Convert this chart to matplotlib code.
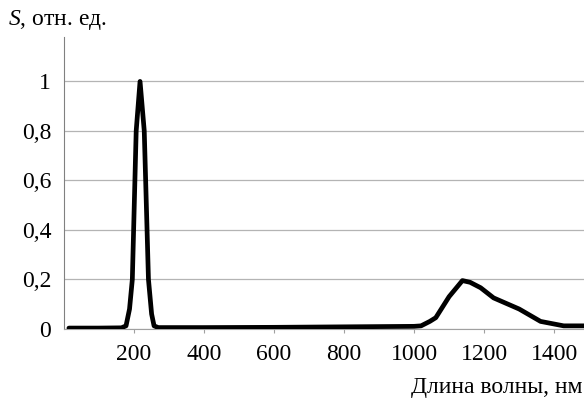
import matplotlib
matplotlib.use("Agg")
import matplotlib.pyplot as plt

wavelength = [15, 100, 165, 178, 188, 196, 207, 218, 230, 242, 251, 258, 270, 400, 600, 800, 1000, 1020, 1045, 1062, 1100, 1138, 1160, 1190, 1227, 1300, 1361, 1427, 1485]
signal =     [0.003, 0.003, 0.004, 0.012, 0.08, 0.2, 0.8, 1.0, 0.8, 0.2, 0.06, 0.012, 0.005, 0.005, 0.006, 0.008, 0.01, 0.012, 0.03, 0.045, 0.13, 0.195, 0.188, 0.166, 0.125, 0.08, 0.03, 0.012, 0.012]

y_ticks = [0, 0.2, 0.4, 0.6, 0.8, 1.0]
y_labels = ["0", "0,2", "0,4", "0,6", "0,8", "1"]
x_ticks = [200, 400, 600, 800, 1000, 1200, 1400]

plt.rcParams['font.family'] = ['Liberation Serif', 'DejaVu Serif']
plt.rcParams['mathtext.fontset'] = 'custom'
plt.rcParams['mathtext.it'] = 'Liberation Serif:italic'
plt.rcParams['mathtext.rm'] = 'Liberation Serif'

fig = plt.figure(figsize=(5.84, 4.01), dpi=100)
ax = fig.add_axes([0.109, 0.18, 0.891, 0.728])
ax.plot(wavelength, signal, color="black", lw=3.4, solid_joinstyle="round", solid_capstyle="round", zorder=3)
ax.set_xlim(0, 1485)
ax.set_ylim(0, 1.18)
ax.set_yticks(y_ticks)
ax.set_yticklabels(y_labels)
ax.set_xticks(x_ticks)
for s in ["top", "right"]:
    ax.spines[s].set_visible(False)
ax.spines["left"].set_color("#808080")
ax.spines["bottom"].set_color("#a0a0a0")
ax.yaxis.grid(True, color="#b4b4b4", lw=0.9)
ax.tick_params(axis="both", labelsize=17, length=3, color="#a0a0a0")
ax.tick_params(axis="y", length=0, pad=9)
ax.tick_params(axis="x", pad=8)
fig.text(0.014, 0.95, "$S$, отн. ед.", fontsize=17, va="center", ha="left")
fig.text(0.998, 0.033, "Длина волны, нм", fontsize=17, va="center", ha="right")
fig.savefig("out.png", dpi=100)
